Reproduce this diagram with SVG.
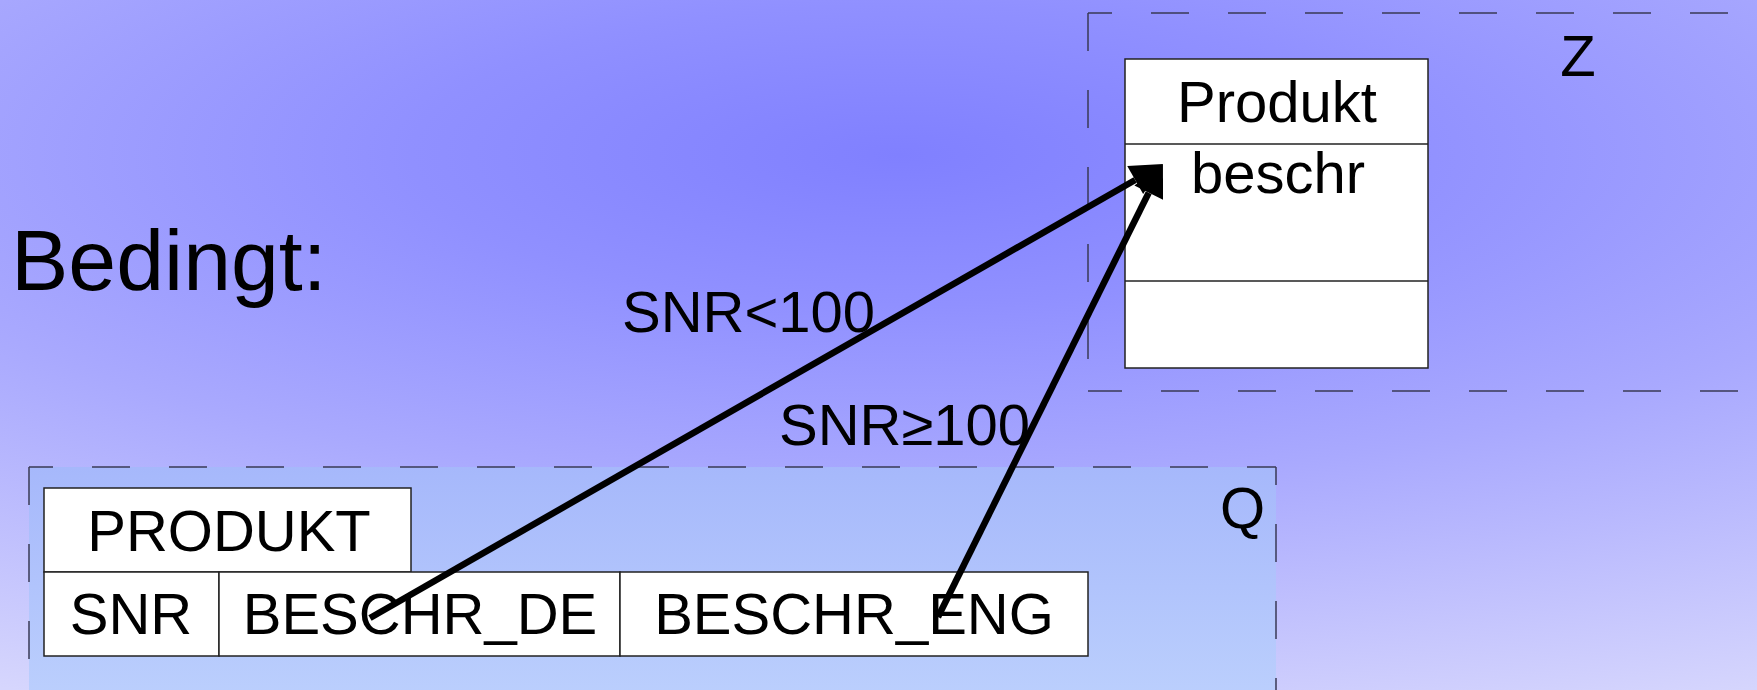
<svg xmlns="http://www.w3.org/2000/svg" width="1757" height="690" viewBox="0 0 1757 690">
  <defs>
    <radialGradient id="bg" gradientUnits="userSpaceOnUse" cx="0" cy="0" r="1" gradientTransform="translate(900 155) scale(1950 600)">
      <stop offset="0" stop-color="#8080ff"/>
      <stop offset="0.25" stop-color="#9090ff"/>
      <stop offset="0.55" stop-color="#a9a9fe"/>
      <stop offset="1" stop-color="#d6d6fd"/>
    </radialGradient>
    <linearGradient id="qfill" x1="0" y1="0" x2="0" y2="1">
      <stop offset="0" stop-color="#a6b8fb"/>
      <stop offset="1" stop-color="#bcd0fd"/>
    </linearGradient>
    <marker id="head" markerUnits="userSpaceOnUse" markerWidth="34" markerHeight="34" refX="0" refY="16" orient="auto" overflow="visible">
      <path d="M0,0 L32,16 L0,32 z" fill="#000"/>
    </marker>
    <style>
      text { font-family: "Liberation Sans", Arial, sans-serif; fill: #000; }
      .t57 { font-size: 58px; }
      .mid { text-anchor: middle; }
      .frame { fill: none; stroke: #3a3a55; stroke-width: 1.5; stroke-dasharray: 38 39; }
      .cell { fill: #fff; stroke: #222; stroke-width: 1.5; }
      .sep { stroke: #222; stroke-width: 1.5; }
      .conn { fill: none; stroke: #000; stroke-width: 6.5; marker-end: url(#head); }
    </style>
  </defs>

  <!-- page background -->
  <rect x="0" y="0" width="1757" height="690" fill="url(#bg)"/>

  <!-- heading -->
  <text x="11" y="290" font-size="86">Bedingt:</text>

  <!-- target schema frame Z -->
  <g id="frame-z">
    <line class="frame" x1="1088" y1="13" x2="1757" y2="13" stroke-dashoffset="14"/>
    <line class="frame" x1="1088" y1="13" x2="1088" y2="391"/>
    <line class="frame" x1="1088" y1="391" x2="1757" y2="391" stroke-dashoffset="4"/>
    <text class="t57 mid" x="1578" y="76">Z</text>
  </g>

  <!-- source schema frame Q -->
  <g id="frame-q">
    <rect x="29" y="467" width="1247" height="240" fill="url(#qfill)"/>
    <line class="frame" x1="29" y1="467" x2="1276" y2="467" stroke-dashoffset="14"/>
    <line class="frame" x1="29" y1="467" x2="29" y2="690"/>
    <line class="frame" x1="1276" y1="467" x2="1276" y2="690" stroke-dashoffset="20"/>
    <text class="t57" x="1265" y="528" text-anchor="end">Q</text>
  </g>

  <!-- class Produkt -->
  <g id="class-produkt">
    <rect class="cell" x="1125" y="59" width="303" height="309"/>
    <line class="sep" x1="1125" y1="144" x2="1428" y2="144"/>
    <line class="sep" x1="1125" y1="281" x2="1428" y2="281"/>
    <text class="t57 mid" x="1277" y="122">Produkt</text>
    <text class="t57 mid" x="1278" y="193">beschr</text>
  </g>

  <!-- table PRODUKT -->
  <g id="table-produkt">
    <rect class="cell" x="44" y="488" width="367" height="84"/>
    <text class="t57 mid" x="229" y="551">PRODUKT</text>
    <rect class="cell" x="44" y="572" width="175" height="84"/>
    <rect class="cell" x="219" y="572" width="401" height="84"/>
    <rect class="cell" x="620" y="572" width="468" height="84"/>
    <text class="t57 mid" x="131" y="634">SNR</text>
    <text class="t57 mid" x="420" y="634">BESCHR_DE</text>
    <text class="t57 mid" x="854" y="634">BESCHR_ENG</text>
  </g>

  <!-- mapping conditions -->
  <g id="labels">
    <text class="t57" x="622" y="332">SNR&lt;100</text>
    <text class="t57" x="779" y="445">SNR≥100</text>
  </g>

  <!-- mapping arrows -->
  <g id="connectors">
    <path class="conn" d="M370,618 L1135.2,180"/>
    <path class="conn" d="M938,617 L1148.7,192.7"/>
  </g>
</svg>
